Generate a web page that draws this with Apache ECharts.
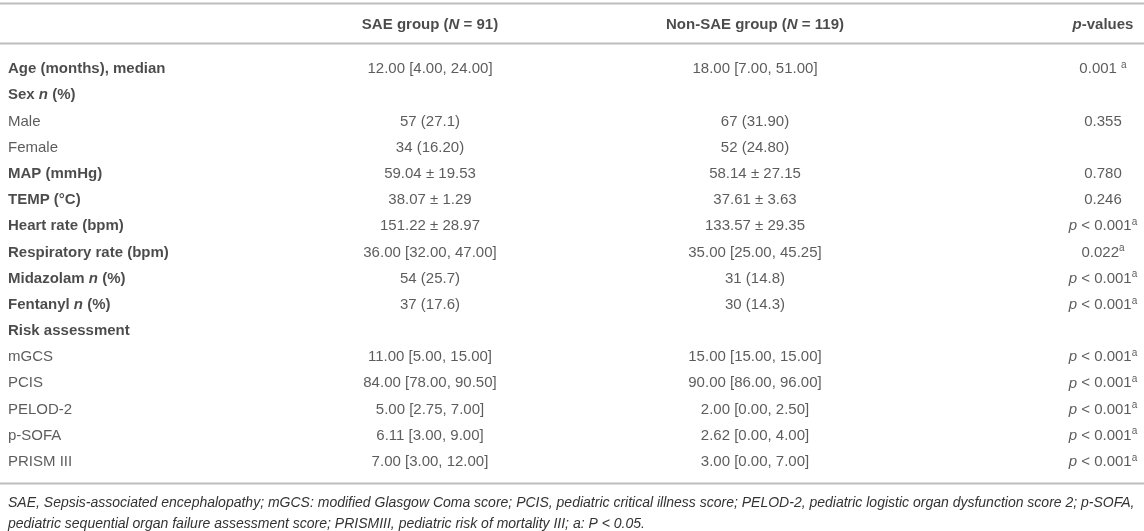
<!DOCTYPE html>
<html>
<head>
<meta charset="utf-8">
<script src="https://cdn.jsdelivr.net/npm/echarts@6/dist/echarts.min.js"></script>
<style>html,body{margin:0;padding:0;background:#fff}#c{width:1144px;height:531px}</style>
</head>
<body>
<div id="c"></div>
<script>
// ---- data ----
const headers = ['', '{b|SAE group (}{bi|N}{b| = 91)}', '{b|Non-SAE group (}{bi|N}{b| = 119)}', '{bi|p}{b|-values}'];
const rowLabels = [
  '{b|Age (months), median}',
  '{b|Sex }{bi|n}{b| (%)}',
  'Male',
  'Female',
  '{b|MAP (mmHg)}',
  '{b|TEMP (°C)}',
  '{b|Heart rate (bpm)}',
  '{b|Respiratory rate (bpm)}',
  '{b|Midazolam }{bi|n}{b| (%)}',
  '{b|Fentanyl }{bi|n}{b| (%)}',
  '{b|Risk assessment}',
  'mGCS',
  'PCIS',
  'PELOD-2',
  'p-SOFA',
  'PRISM III'
];
const saeValues = [
  '12.00 [4.00, 24.00]', '', '57 (27.1)', '34 (16.20)', '59.04 ± 19.53', '38.07 ± 1.29',
  '151.22 ± 28.97', '36.00 [32.00, 47.00]', '54 (25.7)', '37 (17.6)', '',
  '11.00 [5.00, 15.00]', '84.00 [78.00, 90.50]', '5.00 [2.75, 7.00]', '6.11 [3.00, 9.00]', '7.00 [3.00, 12.00]'
];
const nonSaeValues = [
  '18.00 [7.00, 51.00]', '', '67 (31.90)', '52 (24.80)', '58.14 ± 27.15', '37.61 ± 3.63',
  '133.57 ± 29.35', '35.00 [25.00, 45.25]', '31 (14.8)', '30 (14.3)', '',
  '15.00 [15.00, 15.00]', '90.00 [86.00, 96.00]', '2.00 [0.00, 2.50]', '2.62 [0.00, 4.00]', '3.00 [0.00, 7.00]'
];
const pValues = [
  '0.001 {sup|a}', '', '0.355', '', '0.780', '0.246',
  '{i|p} < 0.001{sup|a}', '0.022{sup|a}', '{i|p} < 0.001{sup|a}', '{i|p} < 0.001{sup|a}', '',
  '{i|p} < 0.001{sup|a}', '{i|p} < 0.001{sup|a}', '{i|p} < 0.001{sup|a}', '{i|p} < 0.001{sup|a}', '{i|p} < 0.001{sup|a}'
];
const footnote = 'SAE, Sepsis-associated encephalopathy; mGCS: modified Glasgow Coma score; PCIS, pediatric critical illness score; PELOD-2, pediatric logistic organ dysfunction score 2; p-SOFA,\npediatric sequential organ failure assessment score; PRISMIII, pediatric risk of mortality III; a: P < 0.05.';

// ---- layout ----
const W = 1144;
const colX = [8, 430, 755, 1103];
const colAlign = ['left', 'center', 'center', 'center'];
const FONT = '"Liberation Sans", Arial, Helvetica, sans-serif';
const rich = {
  b: {fontWeight: 'bold', fontSize: 15, color: '#1e1e1e', fontFamily: FONT, lineHeight: 18},
  bi: {fontWeight: 'bold', fontStyle: 'italic', fontSize: 15, color: '#1e1e1e', fontFamily: FONT, lineHeight: 18},
  i: {fontStyle: 'italic', fontSize: 15, color: '#333', fontFamily: FONT, lineHeight: 18},
  sup: {fontSize: 10, color: '#333', fontFamily: FONT, verticalAlign: 'top', lineHeight: 18, padding: [0, 0, 6, 0]}
};
const rowIdx = rowLabels.map((_, i) => String(i));
const bodyCols = [rowLabels, saeValues, nonSaeValues, pValues];

const series = [];
bodyCols.forEach((col, c) => {
  series.push({
    type: 'scatter', xAxisIndex: 1, yAxisIndex: 1, symbolSize: 0, silent: true,
    data: col.map((t, i) => [colX[c], i]),
    label: {
      show: true, position: 'inside', align: colAlign[c], verticalAlign: 'middle',
      fontSize: 15, color: '#333', fontFamily: FONT, lineHeight: 18, rich: rich,
      formatter: p => col[p.dataIndex]
    }
  });
});
series.push({
  type: 'scatter', xAxisIndex: 0, yAxisIndex: 0, symbolSize: 0, silent: true,
  data: headers.map((t, c) => [colX[c], 0]),
  label: {
    show: true, position: 'inside', verticalAlign: 'middle',
    fontSize: 15, fontFamily: FONT, rich: rich,
    align: 'center',
    formatter: p => headers[p.dataIndex]
  }
});

const chart = echarts.init(document.getElementById('c'), null, {renderer: 'canvas'});
chart.setOption({
  backgroundColor: '#fff',
  animation: false,
  title: {
    text: footnote, left: 8, top: 493, padding: 0,
    textStyle: {fontStyle: 'italic', fontWeight: 'normal', fontSize: 14, lineHeight: 21, color: '#333', fontFamily: FONT}
  },
  grid: [
    {left: 0, right: 0, top: 5, height: 40},
    {left: 0, right: 0, top: 56, height: 419}
  ],
  xAxis: [
    {type: 'value', gridIndex: 0, min: 0, max: W, show: false},
    {type: 'value', gridIndex: 1, min: 0, max: W, show: false}
  ],
  yAxis: [
    {type: 'category', gridIndex: 0, data: ['h'], show: false},
    {type: 'category', gridIndex: 1, data: rowIdx, inverse: true, show: false}
  ],
  graphic: [
    {type: 'line', shape: {x1: 0, y1: 3.5, x2: W, y2: 3.5}, style: {stroke: '#bdbdbd', lineWidth: 2}, silent: true},
    {type: 'line', shape: {x1: 0, y1: 43.5, x2: W, y2: 43.5}, style: {stroke: '#bdbdbd', lineWidth: 2}, silent: true},
    {type: 'line', shape: {x1: 0, y1: 483.5, x2: W, y2: 483.5}, style: {stroke: '#bdbdbd', lineWidth: 2}, silent: true}
  ],
  series: series
});
</script>
</body>
</html>
